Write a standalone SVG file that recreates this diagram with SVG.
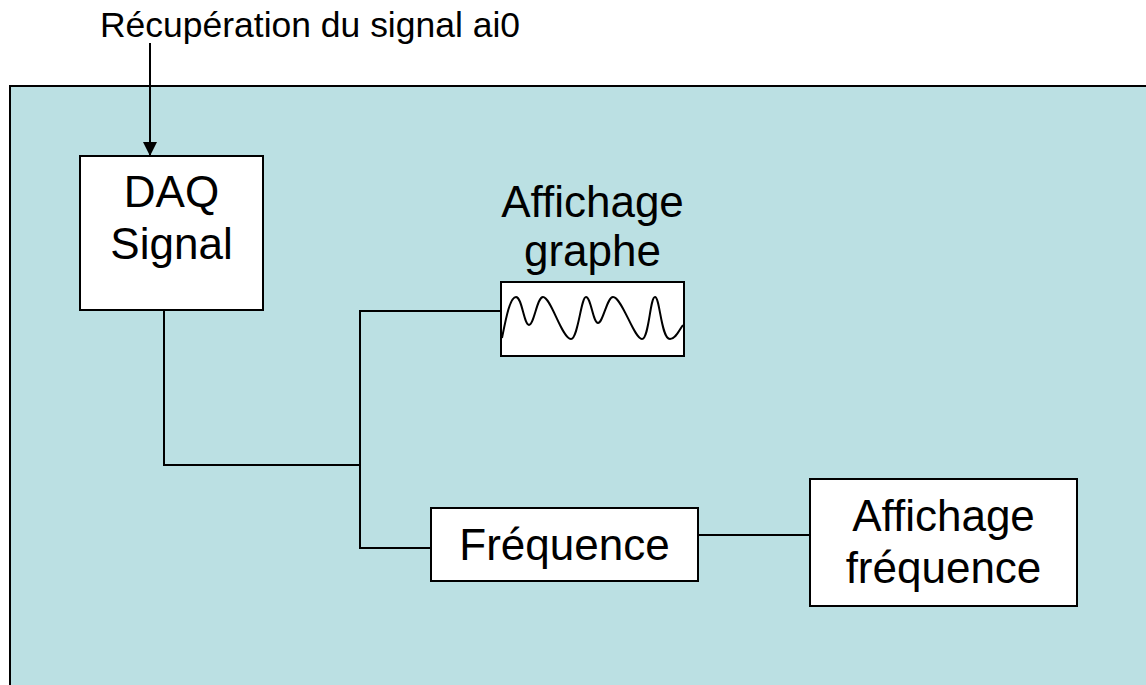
<svg xmlns="http://www.w3.org/2000/svg" width="1146" height="685" viewBox="0 0 1146 685">
  <defs>
    <marker id="arrow" markerWidth="14" markerHeight="14" refX="14" refY="7" orient="auto" markerUnits="userSpaceOnUse" viewBox="0 0 14 14">
      <path d="M0,0 L14,7 L0,14 Z" fill="#000"/>
    </marker>
  </defs>
  <style>
    .frame { fill: #bbe0e3; stroke: #000; stroke-width: 2; }
    .box { fill: #fff; stroke: #000; stroke-width: 2; }
    .wire { fill: none; stroke: #000; stroke-width: 2; }
    .lbl { font-family: "Liberation Sans", Arial, sans-serif; font-size: 44px; fill: #000; text-anchor: middle; }
    .title { font-family: "Liberation Sans", Arial, sans-serif; font-size: 35px; fill: #000; }
    .wave { fill: none; stroke: #000; stroke-width: 2; }
  </style>

  <rect width="1146" height="685" fill="#fff"/>

  <!-- system boundary -->
  <rect class="frame" x="10" y="86" width="1146" height="620"/>

  <text class="title" x="100" y="37" textLength="420" lengthAdjust="spacingAndGlyphs">Récupération du signal ai0</text>

  <!-- connectors -->
  <g id="connectors">
    <line class="wire" x1="150" y1="43" x2="150" y2="156" marker-end="url(#arrow)"/>
    <polyline class="wire" points="164,310 164,465 360,465"/>
    <polyline class="wire" points="501,311 360,311 360,548 431,548"/>
    <line class="wire" x1="698" y1="535" x2="810" y2="535"/>
  </g>

  <g id="daq">
    <rect class="box" x="80" y="156" width="183" height="154"/>
    <text class="lbl" x="171.5" y="207">DAQ</text>
    <text class="lbl" x="171.5" y="259">Signal</text>
  </g>

  <g id="graph">
    <text class="lbl" x="592.5" y="217">Affichage</text>
    <text class="lbl" x="592.5" y="266">graphe</text>
    <rect class="box" x="501" y="282" width="183" height="74"/>
    <path class="wave" d="M502,338 C506,318 510,297 516,297 C522,297 524,325 529,325 C534,325 537,297 543,297 C551,297 562,339 571,339 C578,339 581,297 586,297 C591,297 593,323 598,323 C603,323 607,297 613,297 C622,297 634,339 642,339 C649,339 650,297 655,297 C660,297 661,339 670,339 C676,339 679,330 683,325"/>
  </g>

  <g id="frequence">
    <rect class="box" x="431" y="508" width="267" height="73"/>
    <text class="lbl" x="564.5" y="560">Fréquence</text>
  </g>

  <g id="affichage-frequence">
    <rect class="box" x="810" y="479" width="267" height="127"/>
    <text class="lbl" x="943.5" y="531">Affichage</text>
    <text class="lbl" x="943.5" y="583">fréquence</text>
  </g>
</svg>
